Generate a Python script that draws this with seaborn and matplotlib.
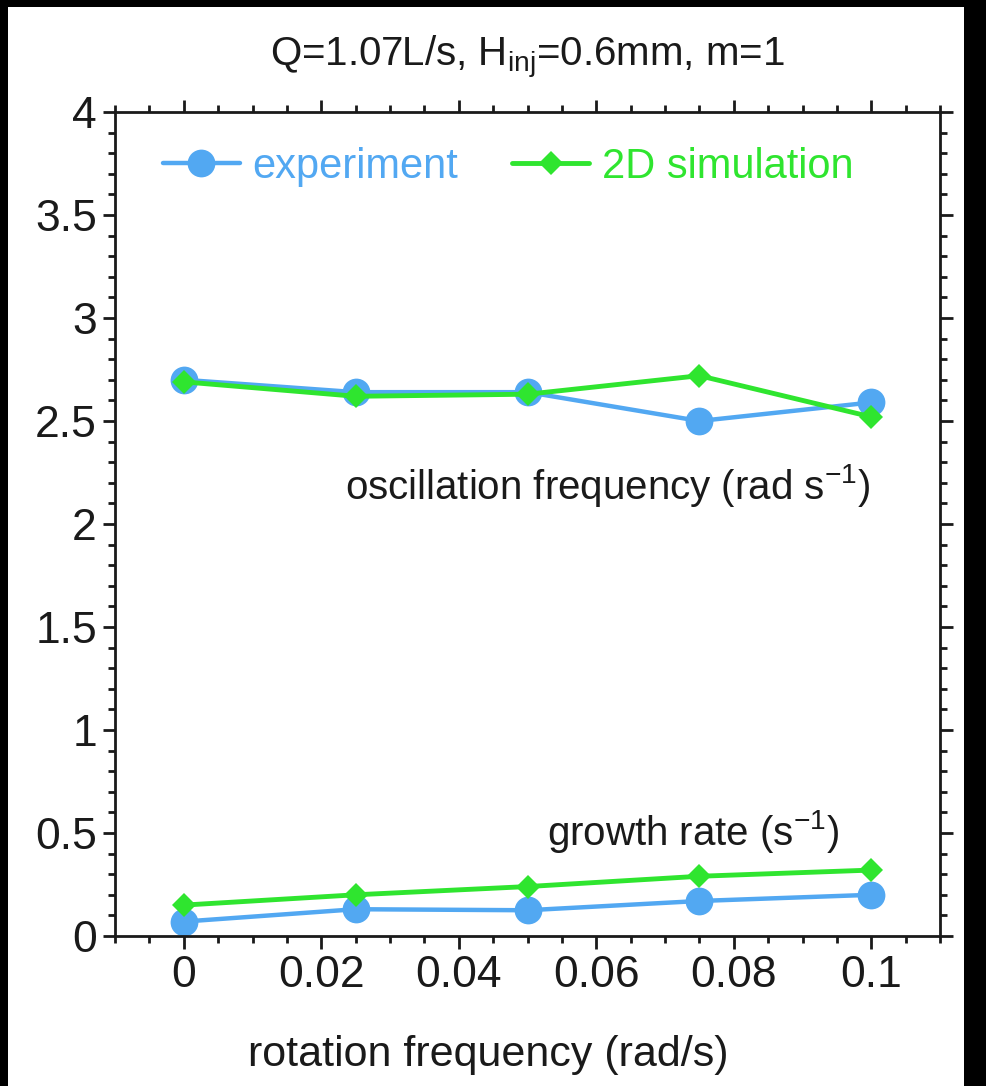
import numpy as np
import pandas as pd
import matplotlib
matplotlib.use("Agg")
import matplotlib.pyplot as plt
from matplotlib.ticker import MultipleLocator
import seaborn as sns

# rotation frequency (rad/s)
rotation = [0.0, 0.025, 0.05, 0.075, 0.1]

# oscillation frequency (rad/s^-1)
osc_experiment = [2.70, 2.64, 2.64, 2.50, 2.59]
osc_simulation = [2.69, 2.62, 2.63, 2.72, 2.52]

# growth rate (s^-1)
growth_experiment = [0.07, 0.13, 0.125, 0.17, 0.20]
growth_simulation = [0.15, 0.20, 0.24, 0.29, 0.32]

x_ticks = [0, 0.02, 0.04, 0.06, 0.08, 0.1]
x_tick_labels = ["0", "0.02", "0.04", "0.06", "0.08", "0.1"]
y_ticks = [0, 0.5, 1, 1.5, 2, 2.5, 3, 3.5, 4]
y_tick_labels = ["0", "0.5", "1", "1.5", "2", "2.5", "3", "3.5", "4"]

sns.set_style("ticks")
plt.rcParams["font.family"] = ["Liberation Sans", "DejaVu Sans"]
plt.rcParams["mathtext.fontset"] = "custom"
plt.rcParams["mathtext.rm"] = "Liberation Sans"
plt.rcParams["mathtext.it"] = "Liberation Sans"

BLUE = "#52a8f2"
GREEN = "#2fe52f"
INK = "#1a1a1a"

W, H = 986, 1086
fig = plt.figure(figsize=(W / 100, H / 100), dpi=100, facecolor="black")
# white page inside the dark frame
fig.patches.append(plt.Rectangle((8 / W, 0), (964 - 8) / W, (H - 7) / H,
                                 transform=fig.transFigure, facecolor="white",
                                 edgecolor="none", zorder=-10))

ax = fig.add_axes([115 / W, (H - 936) / H, (940 - 115) / W, (936 - 112) / H])
ax.set_facecolor("white")

exp_style = dict(color=BLUE, marker="o", markersize=20, linewidth=3.2,
                 markeredgewidth=0, markeredgecolor=BLUE)
sim_style = dict(color=GREEN, marker="D", markersize=12, linewidth=3.5,
                 markeredgewidth=0, markeredgecolor=GREEN)

sns.lineplot(x=rotation, y=osc_experiment, ax=ax, label="experiment", **exp_style)
sns.lineplot(x=rotation, y=osc_simulation, ax=ax, label="2D simulation", **sim_style)
sns.lineplot(x=rotation, y=growth_experiment, ax=ax, **exp_style)
sns.lineplot(x=rotation, y=growth_simulation, ax=ax, **sim_style)

ax.set_xlim(-0.01, 0.11)
ax.set_ylim(0, 4)
ax.set_xticks(x_ticks)
ax.set_xticklabels(x_tick_labels)
ax.set_yticks(y_ticks)
ax.set_yticklabels(y_tick_labels)
ax.xaxis.set_minor_locator(MultipleLocator(0.005))
ax.yaxis.set_minor_locator(MultipleLocator(0.1))

for side in ["left", "right", "top", "bottom"]:
    ax.spines[side].set_visible(True)
    ax.spines[side].set_linewidth(2)
    ax.spines[side].set_color(INK)

ax.tick_params(which="both", direction="out", top=True, right=True,
               color=INK, labelcolor=INK)
ax.tick_params(which="major", length=9, width=2, labelsize=32, pad=4)
ax.tick_params(which="minor", length=5, width=2)
ax.tick_params(axis="x", which="major", pad=5)

ax.set_xlabel("rotation frequency (rad/s)", fontsize=31, color=INK)
ax.xaxis.set_label_coords(0.452, -0.12)
ax.set_ylabel("")
fig.text(527 / W, 1 - 66 / H, r"Q=1.07L/s, H$_{\mathrm{inj}}$=0.6mm, m=1",
         fontsize=29, color=INK, ha="center", va="baseline")

ax.text(0.0234, 2.12, r"oscillation frequency (rad s$^{\mathrm{-1}}$)",
        fontsize=29, color=INK, ha="left", va="baseline")
ax.text(0.0528, 0.44, r"growth rate (s$^{\mathrm{-1}}$)",
        fontsize=29, color=INK, ha="left", va="baseline")

leg = ax.legend(loc="upper left", bbox_to_anchor=(0.058, 0.958), ncol=2,
                frameon=False, fontsize=30, handlelength=1.85,
                handletextpad=0.3, columnspacing=1.3, borderpad=0,
                borderaxespad=0, labelcolor="linecolor")

fig.savefig("out.png", dpi=100, facecolor=fig.get_facecolor())
